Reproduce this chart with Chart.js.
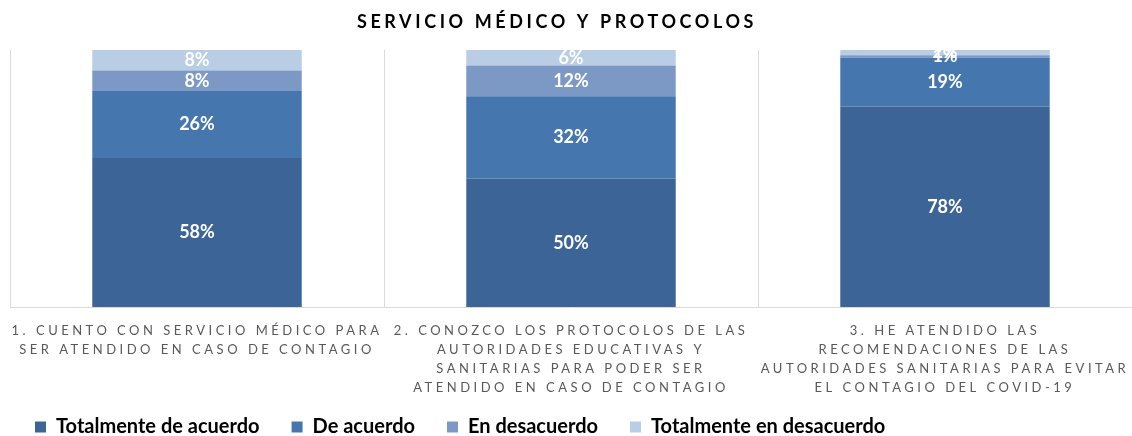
<!DOCTYPE html>
<html>
<head>
<meta charset="utf-8">
<script src="https://cdn.jsdelivr.net/npm/chart.js@4"></script>
<style>
  html, body { margin: 0; padding: 0; background: #fff; }
  #wrap { width: 1132px; height: 436px; }
</style>
</head>
<body>
<div id="wrap"><canvas id="chart" width="1132" height="436"></canvas></div>
<script>
// categories (one array of lines per bar)
const categories = [
  ["1. CUENTO CON SERVICIO MÉDICO PARA", "SER ATENDIDO EN CASO DE CONTAGIO"],
  ["2. CONOZCO LOS PROTOCOLOS DE LAS", "AUTORIDADES EDUCATIVAS Y", "SANITARIAS PARA PODER SER", "ATENDIDO EN CASO DE CONTAGIO"],
  ["3. HE ATENDIDO LAS", "RECOMENDACIONES DE LAS", "AUTORIDADES SANITARIAS PARA EVITAR", "EL CONTAGIO DEL COVID-19"]
];
const seriesNames = ["Totalmente de acuerdo", "De acuerdo", "En desacuerdo", "Totalmente en desacuerdo"];
const totalmenteDeAcuerdo = [58, 50, 78];
const deAcuerdo = [26, 32, 19];
const enDesacuerdo = [8, 12, 1];
const totalmenteEnDesacuerdo = [8, 6, 2];
const colors = ["#3c6496", "#4676ae", "#7c99c6", "#b9cde5"];

const FONT = "Lato, 'Open Sans', sans-serif";

// letter spacing only for title and category labels
function spaced(obj, name, sp, dx) {
  if (!obj || obj['_sp_' + name]) return;
  const orig = obj[name];
  obj[name] = function (...args) {
    const ctx = this.ctx;
    ctx.save();
    ctx.letterSpacing = sp;
    ctx.translate(dx, 0);
    orig.apply(this, args);
    ctx.restore();
    ctx.letterSpacing = '0px';
  };
  obj['_sp_' + name] = true;
}
const spacingPlugin = {
  id: 'spacing',
  afterLayout(chart) {
    // legend sits a little higher and further left than chart.js puts it
    const lg = chart.legend;
    const h = lg.bottom - lg.top;
    lg.top = 385;
    lg.bottom = 385 + h;
    lg.left = 3;
  },
  beforeDraw(chart) {
    spaced(chart.titleBlock, 'draw', '3.6px', -9);
    spaced(chart.scales.x, 'drawLabels', '3.5px', 0);
  }
};

// percentage labels inside the segments
const valueLabels = {
  id: 'valueLabels',
  afterDatasetsDraw(chart) {
    const ctx = chart.ctx;
    ctx.save();
    ctx.font = "bold 18px " + FONT;
    ctx.fillStyle = "#ffffff";
    ctx.textAlign = "center";
    ctx.textBaseline = "middle";
    chart.data.datasets.forEach((ds, i) => {
      chart.getDatasetMeta(i).data.forEach((bar, j) => {
        const y = (bar.y + bar.base) / 2;
        ctx.fillText(ds.data[j] + "%", bar.x, y);
      });
    });
    ctx.restore();
  }
};

const seriesData = [totalmenteDeAcuerdo, deAcuerdo, enDesacuerdo, totalmenteEnDesacuerdo];

new Chart(document.getElementById("chart"), {
  type: "bar",
  data: {
    labels: categories,
    datasets: seriesNames.map((name, i) => ({
      label: name,
      data: seriesData[i],
      backgroundColor: colors[i],
      borderWidth: 0,
      barPercentage: 0.56,
      categoryPercentage: 1
    }))
  },
  options: {
    responsive: false,
    animation: false,
    layout: { padding: { left: 0, right: 0, top: 0, bottom: -25 } },
    scales: {
      x: {
        stacked: true,
        grid: { color: "#d9d9d9", drawTicks: false, offset: true },
        border: { color: "#d9d9d9" },
        ticks: {
          color: "#595959",
          font: { family: FONT, size: 13, lineHeight: "19px" },
          padding: 14,
          maxRotation: 0,
          minRotation: 0,
          autoSkip: false
        },
        afterFit(scale) { scale.height = 92; }
      },
      y: {
        stacked: true,
        min: 0,
        max: 100,
        grid: { display: false },
        border: { display: false },
        ticks: { display: false },
        afterFit(scale) { scale.width = 10; }
      }
    },
    plugins: {
      title: {
        display: true,
        text: "SERVICIO MÉDICO Y PROTOCOLOS",
        color: "#000000",
        font: { family: FONT, size: 18, weight: "bold", lineHeight: 1.2 },
        padding: { top: 11, bottom: 17.4 }
      },
      legend: {
        position: "bottom",
        align: "start",
        labels: {
          color: "#000000",
          font: { family: FONT, size: 20, weight: "bold" },
          boxWidth: 11,
          boxHeight: 11,
          padding: 32
        }
      },
      tooltip: { enabled: false }
    }
  },
  plugins: [spacingPlugin, valueLabels]
});
</script>
</body>
</html>
